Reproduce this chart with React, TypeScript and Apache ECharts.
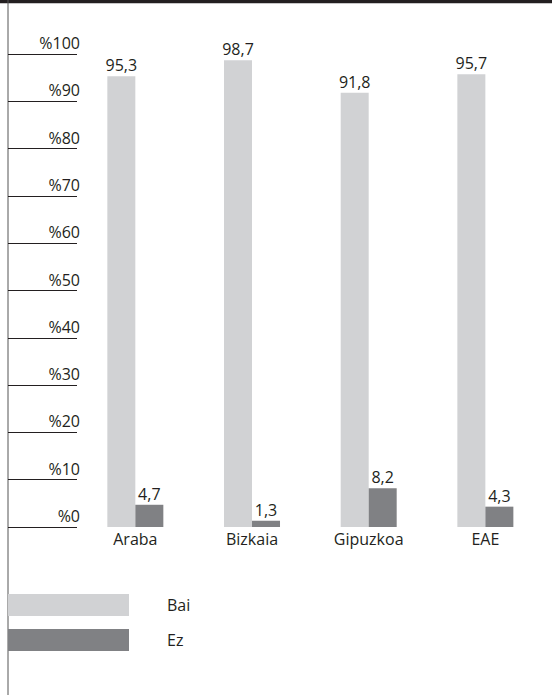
import React, { useEffect, useRef } from "react";
import * as echarts from "echarts";

const categories = ["Araba", "Bizkaia", "Gipuzkoa", "EAE"];
const baiValues = [95.3, 98.7, 91.8, 95.7];
const ezValues = [4.7, 1.3, 8.2, 4.3];
const seriesNames = ["Bai", "Ez"];
const yTicks = [0, 10, 20, 30, 40, 50, 60, 70, 80, 90, 100];

const FONT = "'Open Sans', 'Noto Sans', sans-serif";
const TEXT = "#231f20";

export default function App() {
  const ref = useRef<HTMLDivElement>(null);
  useEffect(() => {
    if (!ref.current) return;
    const chart = echarts.init(ref.current, null, { renderer: "svg" });
    const fmt = (v: number) => v.toFixed(1).replace(".", ",");
    chart.setOption({
      animation: false,
      backgroundColor: "#ffffff",
      grid: { left: 77, right: 8.3, top: 54, height: 473 },
      xAxis: {
        type: "category",
        data: categories,
        axisLine: { show: false },
        axisTick: { show: false },
        axisLabel: { color: TEXT, fontSize: 16, fontFamily: FONT, margin: 4 },
      },
      yAxis: {
        type: "value",
        min: yTicks[0],
        max: yTicks[yTicks.length - 1],
        interval: 10,
        splitLine: { show: false },
        axisLine: { show: false },
        axisTick: { show: true, inside: false, length: 69, lineStyle: { color: TEXT, width: 1 } },
        axisLabel: {
          formatter: (v: number) => "%" + v,
          color: TEXT,
          fontSize: 16,
          fontFamily: FONT,
          margin: -3,
          verticalAlign: "bottom",
          padding: [0, 0, 3, 0],
        },
      },
      legend: {
        orient: "vertical",
        left: 8,
        top: 594,
        padding: 0,
        itemWidth: 121,
        itemHeight: 22,
        itemGap: 13,
        icon: "rect",
        data: seriesNames,
        textStyle: { color: TEXT, fontSize: 16, fontFamily: FONT, padding: [0, 0, 0, 33] },
      },
      graphic: [
        { type: "rect", shape: { x: 0, y: 0, width: 552, height: 3.3 }, style: { fill: "#231f20" } },
        { type: "line", shape: { x1: 8, y1: 0, x2: 8, y2: 695 }, style: { stroke: "#555555", lineWidth: 1 } },
      ],
      series: [
        {
          name: seriesNames[0],
          type: "bar",
          data: baiValues,
          barWidth: 28,
          barGap: "0%",
          itemStyle: { color: "#d1d2d4" },
          label: { show: true, position: "top", distance: 3, color: TEXT, fontSize: 16, fontFamily: FONT, formatter: (p: any) => fmt(p.value) },
        },
        {
          name: seriesNames[1],
          type: "bar",
          data: ezValues,
          barWidth: 28,
          barGap: "0%",
          itemStyle: { color: "#808184" },
          label: { show: true, position: "top", distance: 3, color: TEXT, fontSize: 16, fontFamily: FONT, formatter: (p: any) => fmt(p.value) },
        },
      ],
    });
    return () => chart.dispose();
  }, []);
  return <div ref={ref} style={{ width: 552, height: 695, position: "absolute", left: 0, top: 0 }} />;
}
